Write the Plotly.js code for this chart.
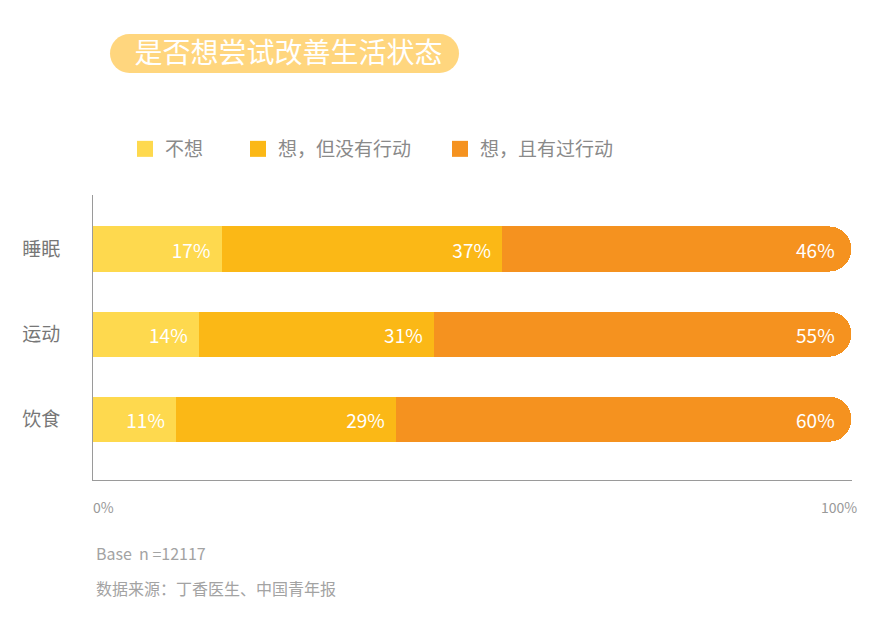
<!DOCTYPE html>
<html>
<head>
<meta charset="utf-8">
<script src="https://cdn.plot.ly/plotly-3.0.1.min.js"></script>
<style>html,body{margin:0;padding:0;background:#fff;}#chart{width:890px;height:628px;}</style>
</head>
<body>
<div id="chart"></div>
<script>
// ---- data ----
const categories = ['饮食', '运动', '睡眠'];
const seriesNames = ['不想', '想，但没有行动', '想，且有过行动'];
const noWant = [11, 14, 17];
const wantNoAction = [29, 31, 37];
const wantAction = [60, 55, 46];
const tickVals = [0, 100];
const tickText = ['0%', '100%'];
const chartTitle = '是否想尝试改善生活状态';
const footnotes = ['Base  n =12117', '数据来源：丁香医生、中国青年报'];

const colors = ['#FED94E', '#FBB816', '#F5921F'];
const cjk = '"Noto Sans CJK SC", "Noto Sans", sans-serif';
const NB = '\u00a0\u00a0';

// pixel -> paper helpers (plot area: x 93..852, y 195..480)
const L = 93, R = 852, T = 195, B = 480;
const px = v => (v - L) / (R - L);
const py = v => (B - v) / (B - T);

const seriesValues = [noWant, wantNoAction, wantAction];
const traces = [];
seriesValues.forEach((vals, i) => {
  traces.push({
    type: 'bar', orientation: 'h',
    y: categories, x: vals,
    name: seriesNames[i],
    marker: {color: colors[i], line: {width: 0}},
    texttemplate: '%{x}%' + NB,
    textposition: 'inside',
    insidetextanchor: 'end',
    textangle: 0,
    insidetextfont: {family: cjk, size: 19, color: '#ffffff'},
    showlegend: false,
    hoverinfo: 'skip'
  });
});
// legend entries
const legendIds = ['legend', 'legend2', 'legend3'];
seriesNames.forEach((n, i) => {
  traces.push({
    type: 'scatter', mode: 'markers', x: [null], y: [null],
    name: n, legend: legendIds[i],
    marker: {symbol: 'square', size: 16, color: colors[i]},
    showlegend: true, hoverinfo: 'skip'
  });
});

const legendBase = {
  orientation: 'h', yanchor: 'middle', xanchor: 'left',
  y: py(149), bgcolor: 'rgba(0,0,0,0)', borderwidth: 0,
  font: {family: cjk, size: 19, color: '#8a8a8a'},
  itemclick: false, itemdoubleclick: false
};
const legendX = [125, 238, 440];

const pillColor = '#FFD67E';
const pillL = 110, pillR = 459, pillT = 34, pillB = 73;
const rad = (pillB - pillT) / 2;
const pillCy = (pillT + pillB) / 2;

const annotations = [];
tickVals.forEach((v, i) => {
  annotations.push({
    xref: 'x', yref: 'paper', x: v, y: py(507),
    text: tickText[i], showarrow: false,
    xanchor: i === 0 ? 'left' : 'right', yanchor: 'middle',
    xshift: i === 0 ? -2 : 8,
    font: {family: cjk, size: 14, color: '#999999'}
  });
});
footnotes.forEach((t, i) => {
  annotations.push({
    xref: 'paper', yref: 'paper', x: px(94), y: py(i === 0 ? 553 : 588),
    text: t, showarrow: false, xanchor: 'left', yanchor: 'middle',
    font: {family: cjk, size: 16, color: '#a3a3a3'}
  });
});

const layout = {
  width: 890, height: 628,
  margin: {l: L, r: 890 - R, t: T, b: 628 - B, pad: 0},
  paper_bgcolor: '#ffffff', plot_bgcolor: '#ffffff',
  barmode: 'stack', bargap: 0.47, barcornerradius: '50%',
  hovermode: false,
  title: {
    text: chartTitle, x: 288.5 / 890, xanchor: 'center',
    y: 1 - pillCy / 628, yanchor: 'middle', xref: 'container', yref: 'container',
    font: {family: cjk, size: 28, color: '#ffffff'}
  },
  xaxis: {
    range: [0, 100.1], showgrid: false, zeroline: false,
    showline: true, linecolor: '#9a9a9a', linewidth: 1,
    showticklabels: false, ticks: '', fixedrange: true
  },
  yaxis: {
    type: 'category', categoryorder: 'array', categoryarray: categories,
    range: [-0.715, 2.635], showgrid: false, zeroline: false,
    showline: true, linecolor: '#9a9a9a', linewidth: 1,
    ticks: '', ticklabelstandoff: 28,
    tickfont: {family: cjk, size: 19, color: '#777777'}, fixedrange: true
  },
  shapes: [
    {type: 'rect', xref: 'paper', yref: 'paper', xsizemode: 'pixel', ysizemode: 'pixel',
     xanchor: px(pillL + rad), yanchor: py(pillCy),
     x0: 0, x1: (pillR - pillL - 2 * rad), y0: -rad, y1: rad,
     fillcolor: pillColor, line: {width: 0}, layer: 'below'},
    {type: 'circle', xref: 'paper', yref: 'paper', xsizemode: 'pixel', ysizemode: 'pixel',
     xanchor: px(pillL + rad), yanchor: py(pillCy),
     x0: -rad, x1: rad, y0: -rad, y1: rad,
     fillcolor: pillColor, line: {width: 0}, layer: 'below'},
    {type: 'circle', xref: 'paper', yref: 'paper', xsizemode: 'pixel', ysizemode: 'pixel',
     xanchor: px(pillR - rad), yanchor: py(pillCy),
     x0: -rad, x1: rad, y0: -rad, y1: rad,
     fillcolor: pillColor, line: {width: 0}, layer: 'below'}
  ],
  annotations: annotations
};
legendIds.forEach((id, i) => {
  layout[id] = Object.assign({}, legendBase, {x: px(legendX[i])});
});

Plotly.newPlot('chart', traces, layout, {displayModeBar: false, staticPlot: true});
</script>
</body>
</html>
